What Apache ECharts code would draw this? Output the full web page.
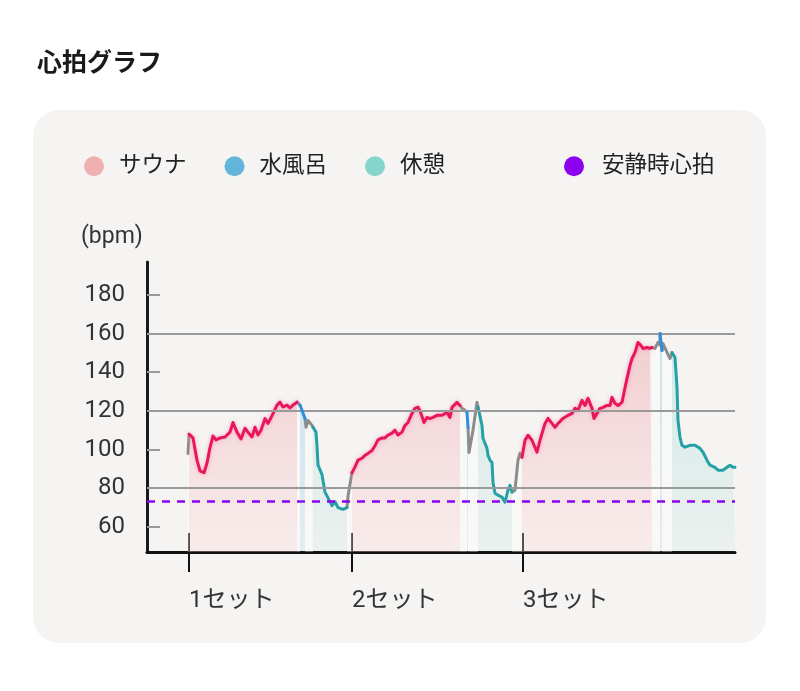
<!DOCTYPE html>
<html>
<head>
<meta charset="utf-8">
<script src="https://cdn.jsdelivr.net/npm/echarts@6/dist/echarts.min.js"></script>
<style>
  html, body { margin: 0; padding: 0; background: #ffffff; }
  #card { position: absolute; left: 33px; top: 110px; width: 733px; height: 533px; border-radius: 26px; background: #f5f4f3; }
  #chart { position: absolute; left: 0; top: 0; width: 800px; height: 691px; }
</style>
</head>
<body>
<div id="card"></div>
<div id="chart"></div>
<script>
// ---- data (time in minutes, heart rate in bpm) ----
const setStarts = [10.5, 51.25, 94];
const setLabels = ['1セット', '2セット', '3セット'];
const yLabelValues = [60, 80, 100, 120, 140, 160, 180];
const gridValues = [80, 120, 160];
const stubValues = [60, 100, 140, 180];
const restingHR = 73;

const sauna1 = [[10.5,108],[11.5,106],[12.5,94.5],[13.25,89],[14.25,88],[15,93],[15.75,101],[16.5,107],[17.25,105],[18.25,106],[19.5,106.5],[20.75,109],[21.5,114],[22.5,109],[23.5,105.5],[24.5,111],[25.25,109],[26.25,106.5],[27,111.5],[27.75,107.5],[28.5,110],[29.5,116],[30.25,113.5],[31.25,117.5],[32.5,123],[33.25,124.5],[34,122],[35,123],[35.75,121.5],[36.5,123],[37.5,124.5]];
const sauna2 = [[51.25,88],[52,91],[52.75,94.5],[53.75,95.5],[54.5,97],[55.25,98],[56.25,99.5],[57,102],[57.75,105],[58.75,106],[59.5,106],[60.25,107.5],[61.25,108.5],[62,110],[62.75,107.5],[63.75,109],[64.5,112.5],[65.25,114],[66.25,118.7],[67,121.3],[67.75,122],[68.5,118.7],[69.25,114],[70,116.6],[70.75,116],[71.5,116.6],[72.5,117.7],[73.75,117.7],[75,119.2],[75.75,116.6],[76.25,121.8],[77.5,124.4],[78.25,122.8]];
const sauna3 = [[93.75,96],[94.5,104.8],[95.25,107.4],[96.25,104.8],[97.5,98.6],[98.25,104.8],[99.5,113.5],[100.25,116.1],[101.25,113.5],[102,111.5],[102.75,113.5],[104,116.1],[105.25,117.7],[106.25,118.7],[107,121.3],[107.75,120.3],[108.75,125.4],[109.5,122.8],[110.25,126.5],[111.25,121.3],[111.75,116.1],[112.5,118.7],[113.25,121.3],[114,121.8],[115,122.8],[115.75,122.8],[116.25,127],[117,123.9],[117.75,122.8],[118.75,124.4],[119.25,129.5],[120,136.8],[120.75,143.5],[121.25,147.1],[122,150.2],[122.75,155.4],[123.5,153.8],[124,152.3],[125,152.8],[125.75,152.3],[126.25,152.8]];

const bath1 = [[38.25,123],[38.75,122.8],[39.5,116]];
const bath2 = [[80,119.2],[80.25,111.5]];
const bath3 = [[128.25,160],[128.75,151.2]];

const rest1 = [[41.5,111.5],[42,111.5],[42.25,109],[42.5,102],[42.75,92],[43.25,91],[43.75,87],[44.5,78],[45.25,75],[46.25,71],[47,73],[47.75,70],[49,69],[50,70]];
const rest2 = [[82.75,122],[83.25,121.3],[83.75,112.5],[84,105.8],[85,100.6],[85.25,97],[85.75,94.5],[86.25,93.4],[86.5,83],[87,77.4],[87.75,76.4],[88.75,75.4],[89.5,72.8],[90.25,79],[90.75,81.5],[91.25,78]];
const rest3 = [[131.25,150.2],[132,147.6],[132.5,132.1],[132.75,115.1],[133.25,106.3],[133.75,102.2],[134.5,101.2],[135.75,102.2],[137,102.2],[138.25,100.6],[139,98.6],[140,94.5],[140.75,91.9],[142,90.8],[142.75,89.3],[144,89.3],[145,90.8],[145.75,91.9],[146.5,90.8],[147,90.8]];

const transitions = [
  [[10.25,98],[10.5,107]],
  [[37.5,124.5],[37.75,123.5],[38.25,123]],
  [[39.5,116],[39.75,111.5],[40.25,115],[41.25,112.5],[41.5,111.5]],
  [[50,70],[50.25,76],[51.25,88]],
  [[78.25,122.8],[78.75,121.3],[79.5,120.3],[80,119.2]],
  [[80.25,111.5],[80.5,98.5],[81.5,110],[82.5,124.4],[82.75,122]],
  [[91.25,78],[92,79],[92.75,94.5],[93.25,98],[93.75,96]],
  [[126.25,152.8],[127,152.3],[127.75,155.4],[128.25,154],[128.25,160]],
  [[128.75,151.2],[129,154.8],[130,150.2],[130.75,147.1],[131.25,150.2]]
];

// ---- helpers ----
function joinSegments(segs) {
  const out = [];
  segs.forEach((s, i) => {
    if (i > 0) out.push([s[0][0], null]);
    s.forEach(p => out.push(p));
  });
  return out;
}
function grad(top, bottom) {
  return { type: 'linear', x: 0, y: 0, x2: 0, y2: 1, colorStops: [{ offset: 0, color: top }, { offset: 1, color: bottom }] };
}
const FONT = "Roboto, 'Noto Sans CJK JP', sans-serif";

function lineSeries(name, data, color, area, z, glow) {
  return {
    name: name, type: 'line', data: data, xAxisIndex: 0, yAxisIndex: 0,
    showSymbol: false, symbol: 'none', connectNulls: false, smooth: false,
    silent: true, z: z,
    lineStyle: Object.assign({ color: color, width: 3, join: 'round', cap: 'round' },
      glow ? { shadowColor: glow, shadowBlur: 4 } : {}),
    itemStyle: { color: color },
    areaStyle: area
  };
}

const chart = echarts.init(document.getElementById('chart'), null, { renderer: 'canvas' });

const option = {
  animation: false,
  backgroundColor: 'transparent',
  title: [
    { text: '心拍グラフ', left: 32, top: 47, textStyle: { fontFamily: FONT, fontSize: 25, fontWeight: 'bold', color: '#1a1a1a' } },
    { text: '(bpm)', left: 76, top: 221, textStyle: { fontFamily: FONT, fontSize: 23, fontWeight: 'normal', color: '#333' } }
  ],
  legend: [
    {
      left: 79, top: 150, itemWidth: 20, itemHeight: 20, itemGap: 38, icon: 'circle',
      textStyle: { fontFamily: FONT, fontSize: 22.5, color: '#222', padding: [0, 0, 0, 10] },
      selectedMode: false,
      data: [
        { name: 'サウナ', itemStyle: { color: '#eeb0b0' } },
        { name: '水風呂', itemStyle: { color: '#63b6d9' } },
        { name: '休憩', itemStyle: { color: '#85d5cc' } }
      ]
    },
    {
      left: 559, top: 150, itemWidth: 20, itemHeight: 20, icon: 'circle',
      textStyle: { fontFamily: FONT, fontSize: 22.5, color: '#222', padding: [0, 0, 0, 13] },
      selectedMode: false,
      data: [{ name: '安静時心拍', itemStyle: { color: '#8c00f0' } }]
    }
  ],
  grid: { left: 147, right: 65, top: 262, bottom: 139, containLabel: false },
  xAxis: [
    {
      type: 'value', min: 0, max: 147, position: 'bottom',
      axisLine: { show: true, lineStyle: { color: '#111', width: 3 } },
      axisTick: { show: true, customValues: setStarts, length: 20, inside: false, lineStyle: { color: '#111', width: 2 } },
      axisLabel: {
        show: true, customValues: setStarts, margin: 37, align: 'left',
        fontFamily: FONT, fontSize: 24, color: '#333',
        formatter: v => { const i = setStarts.indexOf(v); return i >= 0 ? setLabels[i] : ''; }
      },
      splitLine: { show: false }
    },
    {
      type: 'value', min: 0, max: 147, position: 'bottom',
      axisLine: { show: false },
      axisTick: { show: true, customValues: setStarts, length: 19, inside: true, lineStyle: { color: '#111', width: 2 } },
      axisLabel: { show: false },
      splitLine: { show: false }
    }
  ],
  yAxis: [
    {
      type: 'value', min: 47, max: 197,
      axisLine: { show: true, lineStyle: { color: '#1a1a1a', width: 3 } },
      axisTick: { show: true, customValues: stubValues, inside: true, length: 13, lineStyle: { color: '#999', width: 2 } },
      axisLabel: { show: true, customValues: yLabelValues, margin: 22, fontFamily: FONT, fontSize: 24, color: '#333' },
      splitLine: { show: false }
    }
  ],
  series: [
    {
      name: 'grid', type: 'line', data: [], silent: true, z: 1,
      markLine: {
        silent: true, symbol: ['none', 'none'], label: { show: false },
        lineStyle: { color: '#9a9a9a', width: 2, type: 'solid' },
        data: gridValues.map(v => ({ yAxis: v }))
      }
    },
    lineSeries('サウナ', joinSegments([sauna1, sauna2, sauna3]), '#e8175d',
      { color: grad('rgba(235,130,140,0.33)', 'rgba(255,220,220,0.3)'), opacity: 1 }, 4, 'rgba(255,110,150,0.55)'),
    lineSeries('水風呂', joinSegments([bath1, bath2, bath3]), '#2d8ee0',
      { color: grad('rgba(80,170,220,0.25)', 'rgba(80,170,220,0.1)'), opacity: 1 }, 5),
    lineSeries('休憩', joinSegments([rest1, rest2, rest3]), '#25a0a6',
      { color: grad('rgba(60,190,175,0.18)', 'rgba(60,190,175,0.05)'), opacity: 1 }, 4),
    lineSeries('移行', joinSegments(transitions), '#8c8c8c',
      { color: 'rgba(255,255,255,0.35)', opacity: 1 }, 3),
    {
      name: '安静時心拍', type: 'line', data: [], silent: true, z: 6,
      itemStyle: { color: '#8c00f0' },
      markLine: {
        silent: true, symbol: ['none', 'none'], label: { show: false },
        lineStyle: { color: '#8c00f0', width: 2.5, type: [8, 7] },
        data: [{ yAxis: restingHR }]
      }
    }
  ]
};
chart.setOption(option);
</script>
</body>
</html>
